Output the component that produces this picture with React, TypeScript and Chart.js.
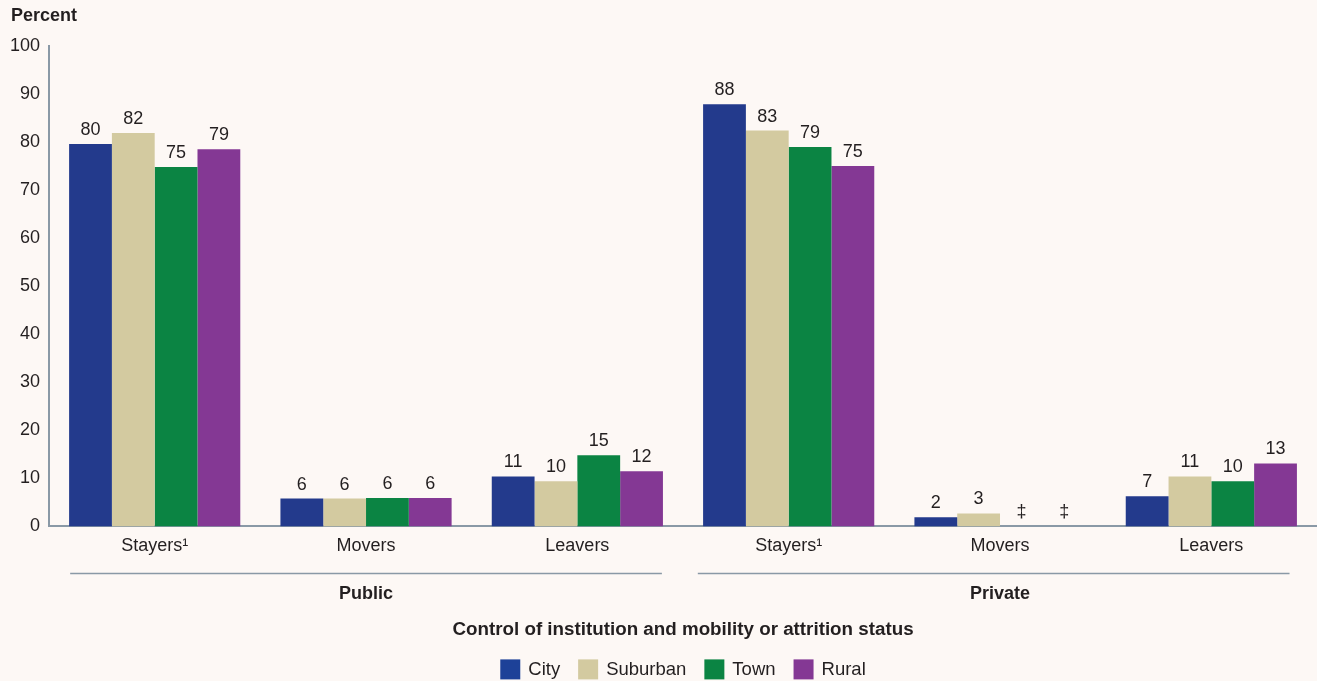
import React, { useEffect, useRef } from "react";
import { Chart, registerables } from "chart.js";
Chart.register(...registerables);

const categories = ["Stayers¹", "Movers", "Leavers", "Stayers¹", "Movers", "Leavers"];
const groupNames = ["Public", "Private"];
const xAxisTitle = "Control of institution and mobility or attrition status";
const yAxisTitle = "Percent";
const seriesNames = ["City", "Suburban", "Town", "Rural"];
const seriesColors = ["#233A8C", "#D3CAA0", "#0B8443", "#843894"];
const legendColors = ["#1D4198", "#D3CAA0", "#0B8443", "#843894"];
const cityValues = [79.6, 5.8, 10.4, 87.9, 1.9, 6.3];
const suburbanValues = [81.9, 5.8, 9.4, 82.4, 2.7, 10.4];
const townValues = [74.8, 5.9, 14.8, 79.0, null, 9.4];
const ruralValues = [78.5, 5.9, 11.5, 75.0, null, 13.1];
const cityLabels = ["80", "6", "11", "88", "2", "7"];
const suburbanLabels = ["82", "6", "10", "83", "3", "11"];
const townLabels = ["75", "6", "15", "79", "‡", "10"];
const ruralLabels = ["79", "6", "12", "75", "‡", "13"];
const yTicks = [0, 10, 20, 30, 40, 50, 60, 70, 80, 90, 100];

const allValues = [cityValues, suburbanValues, townValues, ruralValues];
const allLabels = [cityLabels, suburbanLabels, townLabels, ruralLabels];

const FONT = "'Liberation Sans', Arial, sans-serif";
const TEXT = "#231F20";
const AXIS = "#8A99A6";
const FS = 18;

const annotPlugin = {
  id: "annot",
  afterDatasetsDraw(chart: any) {
    const ctx = chart.ctx;
    const xs = chart.scales.x;
    const ys = chart.scales.y;
    const area = chart.chartArea;
    ctx.save();
    ctx.fillStyle = TEXT;
    ctx.font = `${FS}px ${FONT}`;
    ctx.textAlign = "center";
    ctx.textBaseline = "middle";
    chart.data.datasets.forEach((ds: any, di: number) => {
      const meta = chart.getDatasetMeta(di);
      meta.data.forEach((el: any, i: number) => {
        const v = ds.data[i];
        const y = v == null ? ys.getPixelForValue(0) : el.y;
        ctx.fillText(allLabels[di][i], el.x, y - 14);
      });
    });
    // Percent title
    ctx.font = `bold ${FS}px ${FONT}`;
    ctx.textAlign = "left";
    ctx.fillText(yAxisTitle, 11, 16);
    // group lines and labels
    const p = categories.map((_, i) => xs.getPixelForValue(i));
    const w = p[1] - p[0];
    const lineY = area.bottom + 47;
    ctx.strokeStyle = AXIS;
    ctx.lineWidth = 1.5;
    ctx.beginPath();
    ctx.moveTo(p[0] - 0.4 * w, lineY);
    ctx.lineTo(p[2] + 0.4 * w, lineY);
    ctx.moveTo(p[3] - 0.43 * w, lineY);
    ctx.lineTo(p[5] + 0.37 * w, lineY);
    ctx.stroke();
    ctx.textAlign = "center";
    ctx.fillText(groupNames[0], p[1], area.bottom + 68);
    ctx.fillText(groupNames[1], p[4], area.bottom + 68);
    const cx = (area.left + area.right) / 2;
    ctx.font = `bold 18.8px ${FONT}`;
    ctx.fillText(xAxisTitle, cx, area.bottom + 103);
    // legend
    ctx.font = `18.5px ${FONT}`;
    const box = 20, gap = 8, itemGap = 18;
    const widths = seriesNames.map((n) => box + gap + ctx.measureText(n).width);
    const total = widths.reduce((a, b) => a + b, 0) + itemGap * (seriesNames.length - 1);
    let x = cx - total / 2;
    const ly = area.bottom + 143;
    ctx.textAlign = "left";
    seriesNames.forEach((n, i) => {
      ctx.fillStyle = legendColors[i];
      ctx.fillRect(x, ly - box / 2, box, box);
      ctx.fillStyle = TEXT;
      ctx.fillText(n, x + box + gap, ly + 1);
      x += widths[i] + itemGap;
    });
    ctx.restore();
  },
};

export default function App() {
  const ref = useRef<HTMLCanvasElement>(null);
  useEffect(() => {
    document.body.style.margin = "0";
    const chart = new Chart(ref.current!, {
      type: "bar",
      data: {
        labels: categories,
        datasets: seriesNames.map((n, i) => ({
          label: n,
          data: allValues[i] as any,
          backgroundColor: seriesColors[i],
          borderWidth: 0,
          barPercentage: 1,
          categoryPercentage: 0.81,
        })),
      },
      options: {
        animation: false,
        responsive: false,
        maintainAspectRatio: false,
        layout: { padding: { top: 46, left: 1, right: 0, bottom: 115 } },
        plugins: {
          tooltip: { enabled: false },
          legend: { display: false },
        },
        scales: {
          x: {
            grid: { display: false, drawTicks: false },
            border: { display: true, color: AXIS, width: 2 },
            ticks: { color: TEXT, font: { family: FONT, size: FS }, padding: 9, maxRotation: 0 },
          },
          y: {
            min: 0,
            max: 100,
            afterBuildTicks: (s: any) => {
              s.ticks = yTicks.map((v) => ({ value: v }));
            },
            grid: { display: false, drawTicks: false },
            border: { display: true, color: AXIS, width: 2 },
            ticks: { color: TEXT, font: { family: FONT, size: FS }, padding: 9 },
          },
        },
      },
      plugins: [annotPlugin],
    });
    return () => chart.destroy();
  }, []);
  return (
    <div style={{ position: "absolute", left: 0, top: 0, width: 1317, height: 681, background: "#FDF8F5" }}>
      <canvas ref={ref} width={1317} height={681} style={{ width: 1317, height: 681 }} />
    </div>
  );
}
